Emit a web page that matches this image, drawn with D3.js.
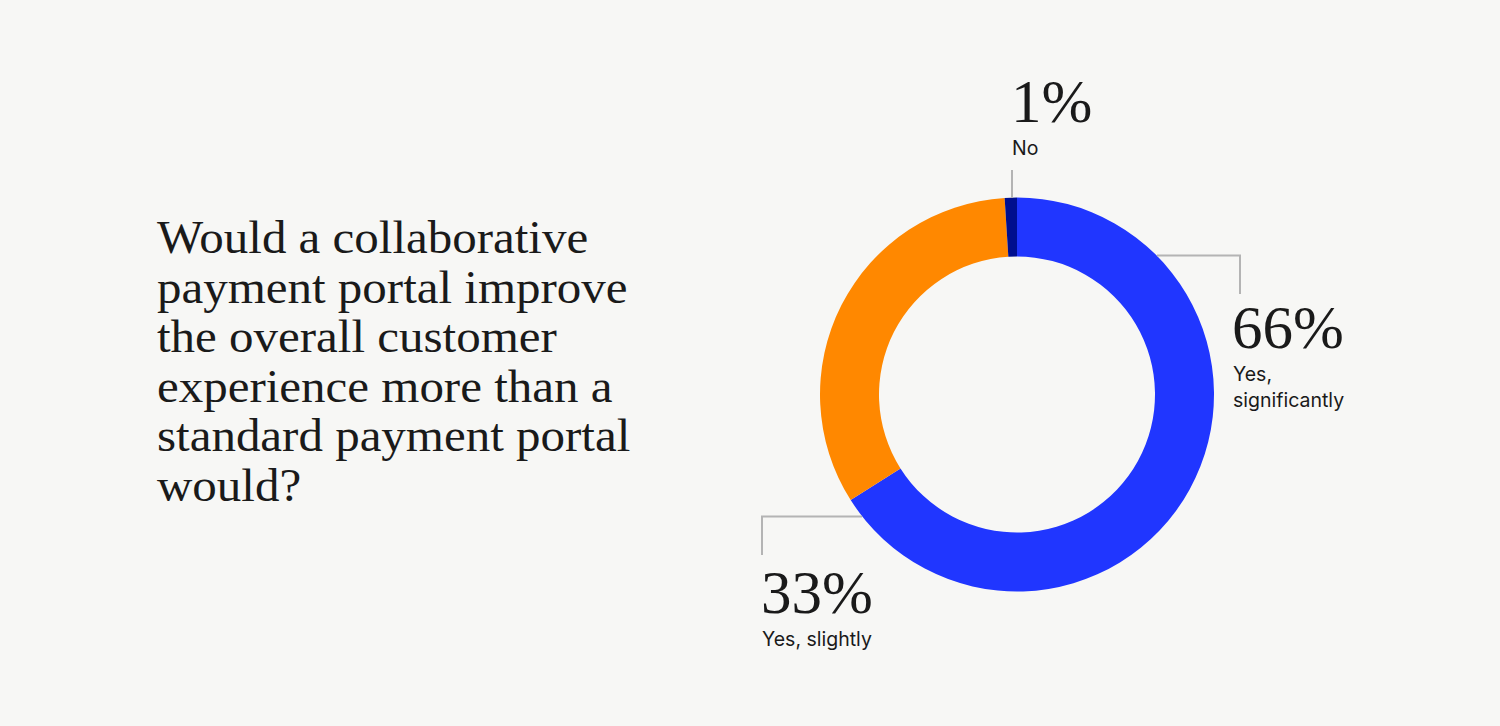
<!DOCTYPE html>
<html>
<head>
<meta charset="utf-8">
<script src="https://cdn.jsdelivr.net/npm/d3@7"></script>
<style>
  html, body { margin: 0; padding: 0; background: #f7f7f5; }
  svg { display: block; }
  .title { font-family: "Liberation Serif", serif; fill: #1a1a1a; }
  .pct { font-family: "Liberation Serif", serif; fill: #1a1a1a; }
  .lab { font-family: Inter, "Noto Sans", sans-serif; fill: #1a1a1a; }
</style>
</head>
<body>
<svg id="chart" width="1500" height="726"></svg>
<script>
const categories = ['Yes, significantly', 'Yes, slightly', 'No'];
const values = [66, 33, 1];
const colors = ['#2036ff', '#ff8800', '#000f8f'];
const labelLines = [['Yes,', 'significantly'], ['Yes, slightly'], ['No']];
const titleLines = [
    'Would a collaborative',
    'payment portal improve',
    'the overall customer',
    'experience more than a',
    'standard payment portal',
    'would?'
];

const svg = d3.select('#chart');
svg.append('rect').attr('width', 1500).attr('height', 726).attr('fill', '#f7f7f5');

// title block (the original serif is a bit wider than Liberation Serif)
const title = svg.append('text')
    .attr('class', 'title')
    .attr('transform', 'translate(157,0) scale(1.065,1)')
    .attr('font-size', 46);

titleLines.forEach((line, i) => {
    title.append('tspan')
        .attr('x', 0)
        .attr('y', 253 + i * 49.6)
        .text(line);
});

// donut
const cx = 1017, cy = 394.5;
const outerR = 197, innerR = 138;

const pie = d3.pie().sort(null).value(d => d);
const arcs = pie(values);
const arc = d3.arc().innerRadius(innerR).outerRadius(outerR);

const g = svg.append('g').attr('transform', `translate(${cx},${cy})`);
g.selectAll('path')
    .data(arcs)
    .enter()
    .append('path')
    .attr('d', arc)
    .attr('fill', (d, i) => colors[i]);

// leader lines + labels
const leaders = [
    { pts: [[1157, 255.5], [1240, 255.5], [1240, 294]], x: 1232, y: 348 },
    { pts: [[862, 516.5], [762, 516.5], [762, 555]], x: 761, y: 613 },
    { pts: [[1012, 198], [1012, 170]], x: 1011, y: 122 }
];

const line = d3.line();
leaders.forEach((l, i) => {
    svg.append('path')
        .attr('d', line(l.pts))
        .attr('fill', 'none')
        .attr('stroke', '#b4b4b4')
        .attr('stroke-width', 2);

    svg.append('text')
        .attr('class', 'pct')
        .attr('x', l.x)
        .attr('y', l.y)
        .attr('font-size', 61)
        .text(values[i] + '%');

    labelLines[i].forEach((t, j) => {
        svg.append('text')
            .attr('class', 'lab')
            .attr('x', l.x + 1)
            .attr('y', l.y + 33 + j * 26)
            .attr('font-size', 19.5)
            .text(t);
    });
});
</script>
</body>
</html>
